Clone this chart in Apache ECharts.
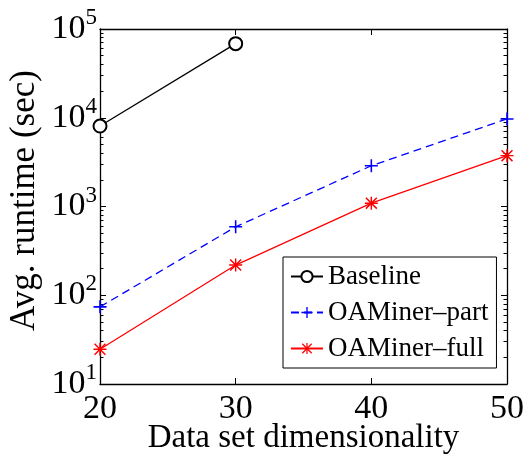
<!DOCTYPE html>
<html>
<head>
    <meta charset="utf-8">
    <title>runtime</title>
    <script src="https://cdn.jsdelivr.net/npm/echarts@6/dist/echarts.min.js"></script>
    <style>
        body { margin: 0; background: #fff; }
        #main { width: 525px; height: 458px; }
    </style>
</head>
<body>
<div id="main"></div>
<script>
    // data
    var dims = [20, 30, 40, 50];
    var baseline = [8070, 68400];
    var oaPart = [74, 590, 2880, 9700];
    var oaFull = [24.6, 219, 1090, 3740];
    var seriesNames = ['Baseline', 'OAMiner\u2013part', 'OAMiner\u2013full'];

    var FONT = 'Liberation Serif';

    // minor ticks: exponents of 2..9 in each decade, drawn on a hidden value axis 1..5
    var minorExp = [];
    for (var d = 1; d < 5; d++) {
        for (var k = 2; k < 10; k++) minorExp.push(d + Math.log10(k));
    }

    function pairs(xs, ys) {
        var out = [];
        for (var i = 0; i < ys.length; i++) out.push([xs[i], ys[i]]);
        return out;
    }

    var plusSym = 'path://M4.4,0h1.2v10h-1.2zM0,4.4h10v1.2h-10z';
    var starSym = 'path://M4.45,0h1.1v10h-1.1zM0,4.45h10v1.1h-10z' +
        'M1.2,0.4L9.6,8.8L8.8,9.6L0.4,1.2zM8.8,0.4L9.6,1.2L1.2,9.6L0.4,8.8z';

    function logAxis(pos, labels) {
        return {
            type: 'log', logBase: 10, min: 10, max: 100000,
            position: pos,
            axisLine: { show: true, lineStyle: { color: '#000', width: 1.3 } },
            axisTick: { show: true, inside: true, length: 6, lineStyle: { color: '#000', width: 1 } },
            splitLine: { show: false },
            axisLabel: labels ? {
                show: true, margin: 3,
                formatter: function (v) {
                    return '{b|10}{s|' + Math.round(Math.log10(v)) + '}';
                },
                rich: {
                    b: { fontFamily: FONT, fontSize: 34, color: '#000' },
                    s: { fontFamily: FONT, fontSize: 23, color: '#000', padding: [0, 0, 22, 0] }
                }
            } : { show: false }
        };
    }

    function minorAxis(pos) {
        return {
            type: 'value', min: 1, max: 5, position: pos,
            axisLine: { show: false },
            axisTick: {
                show: true, inside: true, length: 3.5,
                customValues: minorExp,
                lineStyle: { color: '#000', width: 1 }
            },
            axisLabel: { show: false },
            splitLine: { show: false }
        };
    }

    var myChart = echarts.init(document.getElementById('main'));
    var option = {
        animation: false,
        grid: { left: 100, right: 18, top: 29, bottom: 74, outerBoundsMode: 'none', containLabel: false },
        legend: {
            orient: 'vertical',
            left: 283, top: 257,
            data: seriesNames,
            itemWidth: 32, itemHeight: 14, itemGap: 9,
            padding: [6, 8, 6, 7],
            borderColor: '#000', borderWidth: 1, borderRadius: 0,
            backgroundColor: '#fff',
            textStyle: { fontFamily: FONT, fontSize: 27, color: '#000' }
        },
        xAxis: [{
            type: 'value', min: 20, max: 50, interval: 10,
            position: 'bottom',
            name: 'Data set dimensionality', nameLocation: 'middle', nameGap: 38,
            nameMoveOverlap: false,
            nameTextStyle: { fontFamily: FONT, fontSize: 33, color: '#000' },
            axisLine: { lineStyle: { color: '#000', width: 1.3 } },
            axisTick: { inside: true, length: 6, lineStyle: { color: '#000' } },
            splitLine: { show: false },
            axisLabel: { fontFamily: FONT, fontSize: 34, color: '#000', margin: 8 }
        }, {
            type: 'value', min: 20, max: 50, interval: 10,
            position: 'top',
            axisLine: { lineStyle: { color: '#000', width: 1.3 } },
            axisTick: { inside: true, length: 6, lineStyle: { color: '#000' } },
            splitLine: { show: false },
            axisLabel: { show: false }
        }],
        yAxis: [
            Object.assign(logAxis('left', true), {
                name: 'Avg. runtime (sec)', nameLocation: 'middle', nameGap: 58,
                nameMoveOverlap: false,
                nameTextStyle: { fontFamily: FONT, fontSize: 35, color: '#000', padding: [0, 0, 0, 12] }
            }),
            minorAxis('left'),
            logAxis('right', false),
            minorAxis('right')
        ],
        series: [{
            name: seriesNames[0], type: 'line',
            data: pairs(dims, baseline),
            symbol: 'emptyCircle', symbolSize: 13,
            lineStyle: { color: '#000', width: 1.3 },
            itemStyle: { color: '#000', borderColor: '#000', borderWidth: 1.3 }
        }, {
            name: seriesNames[1], type: 'line',
            data: pairs(dims, oaPart),
            symbol: plusSym, symbolSize: 13,
            lineStyle: { color: '#0000ff', width: 1.3, type: [8, 5] },
            itemStyle: { color: '#0000ff' }
        }, {
            name: seriesNames[2], type: 'line',
            data: pairs(dims, oaFull),
            symbol: starSym, symbolSize: 13,
            lineStyle: { color: '#ff0000', width: 1.3 },
            itemStyle: { color: '#ff0000' }
        }]
    };
    myChart.setOption(option);
</script>
</body>
</html>
